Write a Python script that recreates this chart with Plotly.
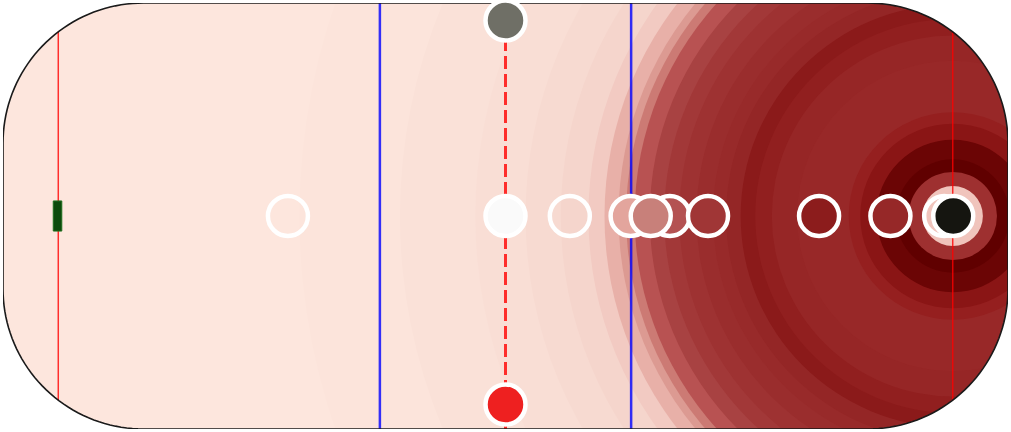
import numpy as np
import plotly.graph_objects as go

# ---------------- data ----------------
rink_length = 200.0
rink_width = 85.0
corner_radius = 28.0
goal_line_x = [-89.0, 89.0]
blue_line_x = [-25.0, 25.0]
center_line_x = 0.0
goal_center = (89.0, 0.0)

# concentric bands around the right goal (outer radius in ft, colour), innermost first
ring_outer_ft = [6.0, 8.8, 11.3, 15.2, 18.4, 20.7, 31.0, 36.0, 39.3, 42.2, 45.1, 47.7,
                 51.0, 54.4, 57.4, 60.3, 63.3, 65.0, 66.5, 69.3, 72.5, 78.0, 85.0,
                 95.0, 110.0, 130.0, 200.0]
ring_colors = ['#f0c4bc', '#9e3030', '#600000', '#6b0505', '#8a1515', '#951f1f', '#982828',
               '#962626', '#911f1f', '#8b1a1a', '#942626', '#982a2a', '#9a2d2d', '#9e3232',
               '#a23838', '#a84242', '#b85252', '#cc7a74', '#dc9a92', '#e8b0a8', '#f2cac2',
               '#f5d5cc', '#f7dad1', '#f9ded5', '#fae1d8', '#fce4db', '#fde6dd']

# shot markers along the centre line (x in ft)
shot_x = [-43.3, 0.0, 12.8, 24.9, 32.7, 40.3, 62.4, 76.6, 87.3, 28.9, 89.1]
shot_y = [0.0] * 11
shot_fill = ['rgba(0,0,0,0)', '#fafafa', 'rgba(0,0,0,0)', '#e3a59d', '#b45252', '#a03636',
             '#8c1c1c', '#962828', 'rgba(0,0,0,0)', '#c8807a', '#151510']

# faceoff-style markers on the centre line
team_x = [0.0, 0.0]
team_y = [39.0, -37.6]
team_fill = ['#6f6f66', '#ee2020']

net_x = [-90.0, -88.3]
net_y = [-3.0, 3.0]

# ---------------- geometry helpers ----------------
hx, hy = rink_length / 2, rink_width / 2
R = corner_radius


def arc(cx, cy, r, a0, a1, n=40):
    t = np.linspace(np.radians(a0), np.radians(a1), n)
    return list(zip(cx + r * np.cos(t), cy + r * np.sin(t)))


def path_from(points, close=True):
    s = 'M ' + ' L '.join(f'{x:.3f},{y:.3f}' for x, y in points)
    return s + (' Z' if close else '')


shapes = []

# heat bands (largest first)
gx, gy = goal_center
for r, c in sorted(zip(ring_outer_ft, ring_colors), key=lambda t: -t[0]):
    shapes.append(dict(type='circle', xref='x', yref='y', x0=gx - r, x1=gx + r,
                       y0=gy - r, y1=gy + r, fillcolor=c, line=dict(width=0), layer='below'))

# white masks outside rounded corners
corners = [(hx - R, hy - R, 0, 90, (hx + 1, hy + 1)),
           (-hx + R, hy - R, 90, 180, (-hx - 1, hy + 1)),
           (-hx + R, -hy + R, 180, 270, (-hx - 1, -hy - 1)),
           (hx - R, -hy + R, 270, 360, (hx + 1, -hy - 1))]
for cx, cy, a0, a1, outer in corners:
    pts = arc(cx, cy, R, a0, a1)
    pts = pts + [outer]
    shapes.append(dict(type='path', xref='x', yref='y', path=path_from(pts),
                       fillcolor='white', line=dict(width=0), layer='below'))

# goal lines
for gxl in goal_line_x:
    d = hx - abs(gxl)
    yext = (hy - R) + np.sqrt(R ** 2 - (R - d) ** 2)
    shapes.append(dict(type='line', xref='x', yref='y', x0=gxl, x1=gxl, y0=-yext, y1=yext,
                       line=dict(color='rgba(255,0,0,0.8)', width=1.5), layer='below'))

# blue lines
for bx in blue_line_x:
    shapes.append(dict(type='line', xref='x', yref='y', x0=bx, x1=bx, y0=-hy, y1=hy,
                       line=dict(color='rgba(0,0,255,0.8)', width=2.5), layer='below'))

# centre red dashed line
shapes.append(dict(type='line', xref='x', yref='y', x0=center_line_x, x1=center_line_x,
                   y0=-hy, y1=hy, line=dict(color='rgba(255,0,0,0.8)', width=3, dash='13px,5px'),
                   layer='below'))

# goal net (left)
shapes.append(dict(type='rect', xref='x', yref='y', x0=net_x[0], x1=net_x[1], y0=net_y[0], y1=net_y[1],
                   fillcolor='#0b4a0b', line=dict(color='#1f6f1f', width=1), layer='below'))

# rink border
border = (arc(hx - R, hy - R, R, 0, 90) + arc(-hx + R, hy - R, R, 90, 180) +
          arc(-hx + R, -hy + R, R, 180, 270) + arc(hx - R, -hy + R, R, 270, 360))
shapes.append(dict(type='path', xref='x', yref='y', path=path_from(border),
                   fillcolor='rgba(0,0,0,0)', line=dict(color='#1a1a1a', width=1.6), layer='below'))

fig = go.Figure()
fig.add_trace(go.Scatter(x=shot_x, y=shot_y, mode='markers', cliponaxis=False,
                         marker=dict(size=40, color=shot_fill, line=dict(color='white', width=4.5)),
                         hoverinfo='skip', showlegend=False))
fig.add_trace(go.Scatter(x=team_x, y=team_y, mode='markers', cliponaxis=False,
                         marker=dict(size=40, color=team_fill, line=dict(color='white', width=4.5)),
                         hoverinfo='skip', showlegend=False))

fig.update_layout(
    width=1011, height=432,
    margin=dict(l=3, r=3, t=3, b=3),
    paper_bgcolor='white', plot_bgcolor='white',
    shapes=shapes,
    xaxis=dict(range=[-hx, hx], visible=False, fixedrange=True),
    yaxis=dict(range=[-hy, hy], visible=False, fixedrange=True),
    showlegend=False,
)
fig.write_html('out.html')
